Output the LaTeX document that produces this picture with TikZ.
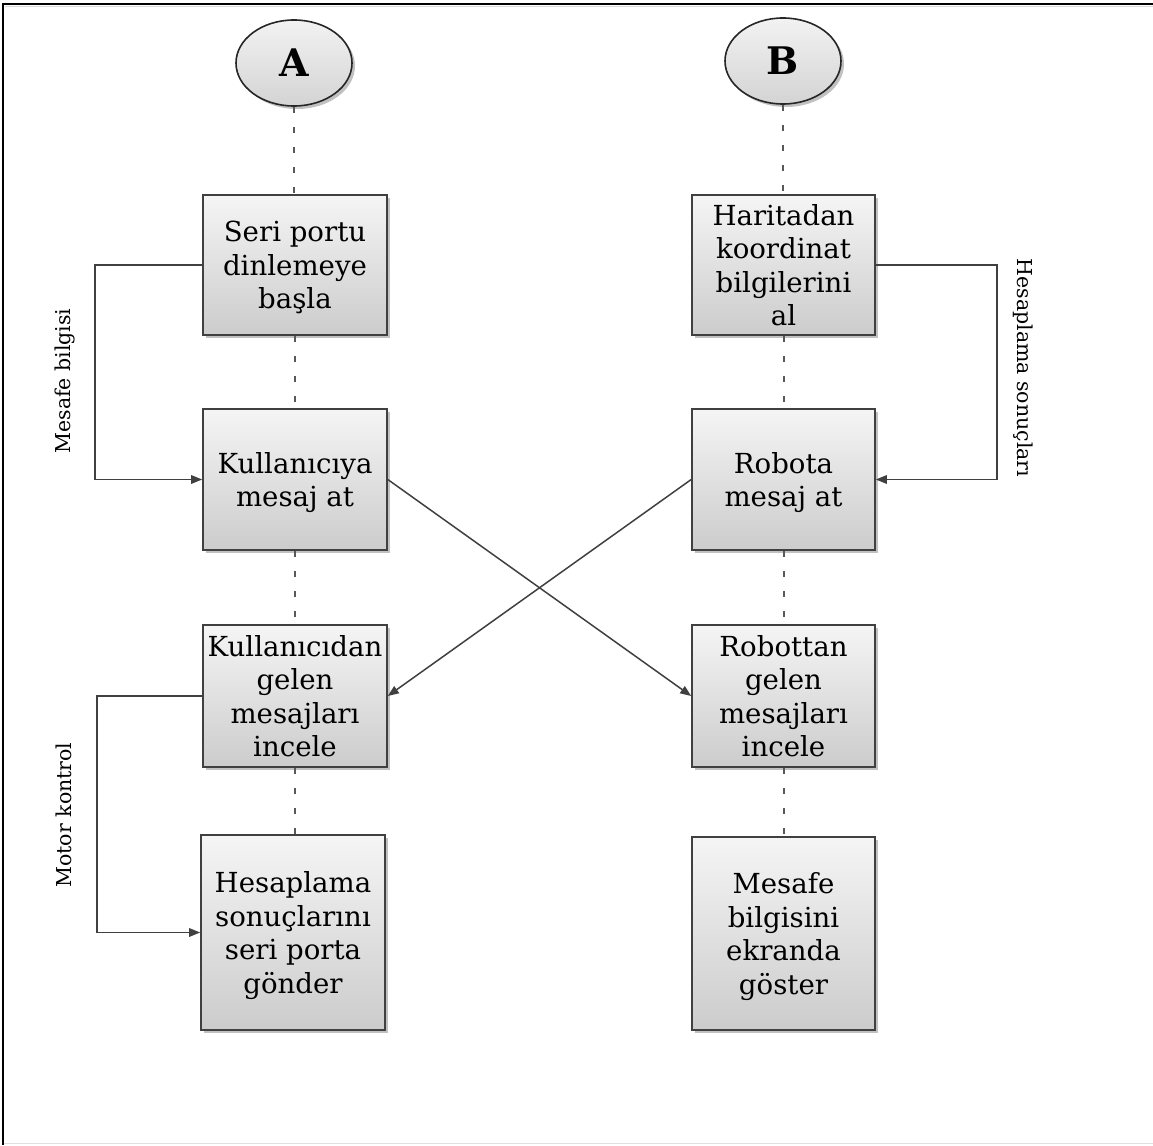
\documentclass[tikz,border=0pt]{standalone}
\usepackage{fontspec}
\setmainfont{DejaVu Serif}
\usetikzlibrary{shadows,arrows.meta,shapes.geometric}
\begin{document}
\begin{tikzpicture}[x=1pt,y=-1pt,
  shad/.style={drop shadow={shadow xshift=3pt,shadow yshift=-3pt,fill=black!35,opacity=0.7}},
  flowbox/.style={draw=black!75,line width=1.6pt,shad,top color=white!96!black,bottom color=black!20,
    minimum width=184pt,align=center,inner sep=2pt,text depth=0pt,font=\fontsize{27.6}{33.5}\selectfont},
  term/.style={ellipse,draw=black!85,line width=1.6pt,shad,top color=white!95!black,bottom color=black!17,
    minimum width=116pt,minimum height=86pt,inner sep=0pt,font=\fontsize{38}{40}\selectfont\bfseries},
  dotline/.style={draw=black!65,line width=2pt,dash pattern=on 6pt off 14pt},
  conn/.style={draw=black!75,line width=1.5pt,-{Triangle[length=11pt,width=8.5pt]}},
  sidelabel/.style={font=\fontsize{20.5}{22}\selectfont,inner sep=0pt}]
\useasboundingbox (0,0) rectangle (1153,1145);
\draw[black!15,line width=1pt] (5,7) -- (1153,7);
\draw[black!12,line width=1pt] (3,1143) -- (1153,1143);
\draw[line width=2pt] (3,1145) -- (3,4) -- (1153,4);

\node[term] (A) at (294,63) {A};
\node[term] (B) at (783,61) {B};

\node[flowbox,minimum height=140pt] (s1) at (295,265) {Seri portu\\dinlemeye\\başla};
\node[flowbox,minimum height=141pt] (s2) at (295,479.5) {Kullanıcıya\\mesaj at};
\node[flowbox,minimum height=142pt] (s3) at (295,696) {Kullanıcıdan\\gelen\\mesajları\\incele};
\node[flowbox,minimum height=195pt] (s4) at (293,932.5) {Hesaplama\\sonuçlarını\\seri porta\\gönder};

\node[flowbox,minimum height=140pt,minimum width=183pt] (r1) at (783.5,265) {Haritadan\\koordinat\\bilgilerini\\al};
\node[flowbox,minimum height=141pt,minimum width=183pt] (r2) at (783.5,479.5) {Robota\\mesaj at};
\node[flowbox,minimum height=142pt,minimum width=183pt] (r3) at (783.5,696) {Robottan\\gelen\\mesajları\\incele};
\node[flowbox,minimum height=193pt,minimum width=183pt] (r4) at (783.5,933.5) {Mesafe\\bilgisini\\ekranda\\göster};

\path[dotline] (A.south) -- (A.south |- s1.north);
\path[dotline] (s1.south) -- (s2.north);
\path[dotline] (s2.south) -- (s3.north);
\path[dotline] (s3.south) -- (s3.south |- s4.north);
\path[dotline] (B.south) -- (B.south |- r1.north);
\path[dotline] (r1.south) -- (r2.north);
\path[dotline] (r2.south) -- (r3.north);
\path[dotline] (r3.south) -- (r4.north);

\draw[conn] (s1.west) -- ++(-107,0) |- (s2.west);
\draw[conn] (s3.west) -- ++(-105,0) |- (s4.west);
\draw[conn] (r1.east) -- ++(121,0) |- (r2.east);
\draw[conn] (s2.east) -- (r3.west);
\draw[conn] (r2.west) -- (s3.east);

\node[sidelabel,rotate=90] (l1) at (65,381) {Mesafe bilgisi};
\node[sidelabel,rotate=90] (l2) at (64,815) {Motor kontrol};
\node[sidelabel,rotate=-90] (l3) at (1023,368) {Hesaplama sonuçları};
\end{tikzpicture}
\end{document}
